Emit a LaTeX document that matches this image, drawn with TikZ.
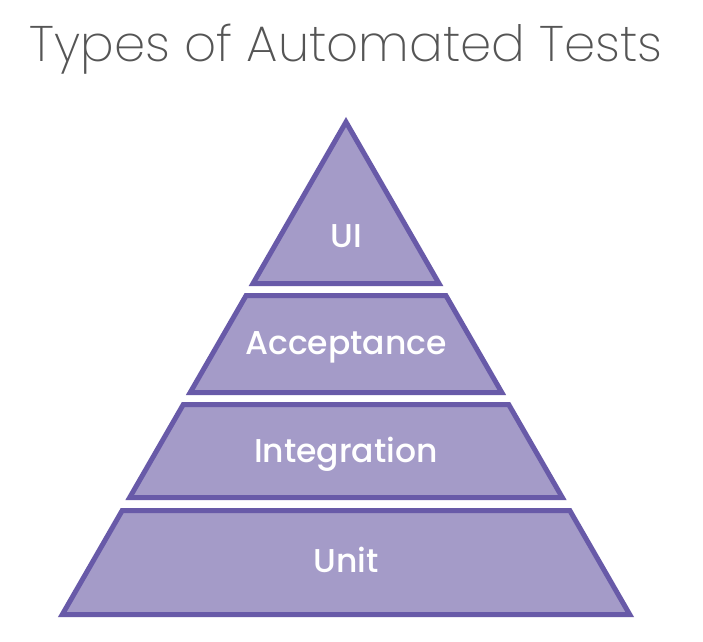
\documentclass[tikz,border=0pt]{standalone}
\usepackage{fontspec}
\newfontfamily\titlefont{Poppins ExtraLight}
\newfontfamily\labelfont{Poppins Medium}
\definecolor{tierfill}{RGB}{164,155,200}
\definecolor{tierline}{RGB}{104,90,168}
\definecolor{titlegray}{RGB}{85,85,85}
\begin{document}
\begin{tikzpicture}[x=1pt,y=-1pt,
  tier/.style={fill=tierfill,draw=tierline,line width=5pt,line join=miter},
  tierlabel/.style={text=white,font=\labelfont\fontsize{33}{33}\selectfont,inner sep=0pt,anchor=base},
  ]
\useasboundingbox[fill=white] (0,0) rectangle (703,641);
\node[anchor=base,text=titlegray,inner sep=0pt,font=\titlefont\fontsize{50}{50}\selectfont] (title) at (346,61) {Types of Automated Tests};
\draw[tier] (346,122) -- (439,283.5) -- (253,283.5) -- cycle;
\draw[tier] (246.1,295.5) -- (445.9,295.5) -- (501.8,392.5) -- (190.2,392.5) -- cycle;
\draw[tier] (183.3,404.5) -- (508.7,404.5) -- (562.3,497.5) -- (129.7,497.5) -- cycle;
\draw[tier] (122.2,510.5) -- (569.8,510.5) -- (629.7,614.5) -- (62.3,614.5) -- cycle;
\node[tierlabel] (ui) at (346,247) {UI};
\node[tierlabel] (acceptance) at (346,354) {Acceptance};
\node[tierlabel] (integration) at (346,462) {Integration};
\node[tierlabel] (unit) at (346,572) {Unit};
\end{tikzpicture}
\end{document}
